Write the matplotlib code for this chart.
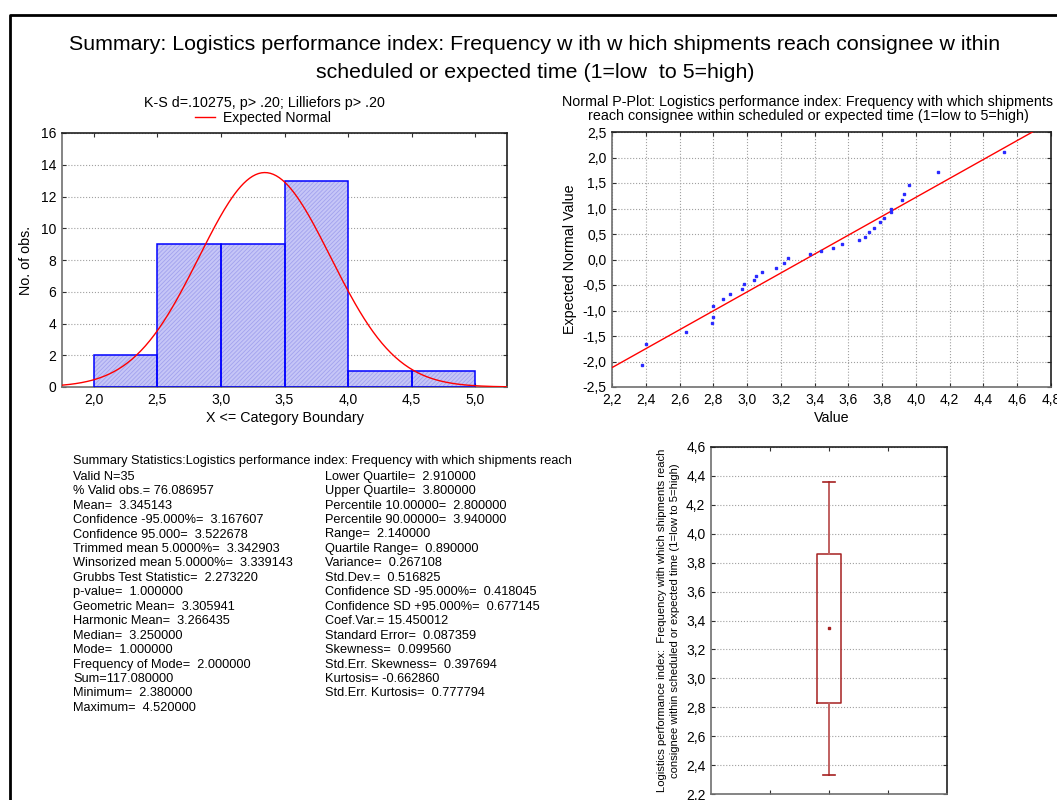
import numpy as np
import matplotlib
matplotlib.use('Agg')
import matplotlib.pyplot as plt
from matplotlib.ticker import FuncFormatter, MultipleLocator
from matplotlib.lines import Line2D

plt.rcParams['font.family'] = ['Liberation Sans', 'DejaVu Sans']
plt.rcParams['hatch.linewidth'] = 0.6

# Histogram data
bin_edges = [2.0, 2.5, 3.0, 3.5, 4.0, 4.5, 5.0]
bin_counts = [2, 9, 9, 13, 1, 1]
n_obs = 35
mean_val = 3.345143
sd_val = 0.516825

# Normal probability plot
pp_values = [2.38, 2.40, 2.64, 2.79, 2.80, 2.80, 2.86, 2.90, 2.97, 2.98, 3.04,
             3.05, 3.09, 3.17, 3.22, 3.24, 3.37, 3.44, 3.51, 3.56, 3.66, 3.70,
             3.72, 3.75, 3.79, 3.81, 3.85, 3.85, 3.92, 3.93, 3.96, 4.13, 4.52]
pp_expected = [-2.06, -1.66, -1.43, -1.24, -1.12, -0.92, -0.77, -0.68, -0.57,
               -0.49, -0.41, -0.33, -0.25, -0.17, -0.06, 0.02, 0.10, 0.17, 0.22,
               0.30, 0.38, 0.45, 0.53, 0.61, 0.73, 0.81, 0.93, 1.00, 1.16, 1.28,
               1.47, 1.71, 2.10]
pp_line_x = [2.2, 4.69]
pp_line_y = [-2.12, 2.5]

# Box plot: mean, mean +/- SD, mean +/- 1.96*SD
box_mean = 3.345
box_low, box_high = 2.83, 3.86
whisker_low, whisker_high = 2.33, 4.36

stats_left = [
    "Valid N=35",
    "% Valid obs.= 76.086957",
    "Mean=  3.345143",
    "Confidence -95.000%=  3.167607",
    "Confidence 95.000=  3.522678",
    "Trimmed mean 5.0000%=  3.342903",
    "Winsorized mean 5.0000%=  3.339143",
    "Grubbs Test Statistic=  2.273220",
    "p-value=  1.000000",
    "Geometric Mean=  3.305941",
    "Harmonic Mean=  3.266435",
    "Median=  3.250000",
    "Mode=  1.000000",
    "Frequency of Mode=  2.000000",
    "Sum=117.080000",
    "Minimum=  2.380000",
    "Maximum=  4.520000",
]
stats_right = [
    "Lower Quartile=  2.910000",
    "Upper Quartile=  3.800000",
    "Percentile 10.00000=  2.800000",
    "Percentile 90.00000=  3.940000",
    "Range=  2.140000",
    "Quartile Range=  0.890000",
    "Variance=  0.267108",
    "Std.Dev.=  0.516825",
    "Confidence SD -95.000%=  0.418045",
    "Confidence SD +95.000%=  0.677145",
    "Coef.Var.= 15.450012",
    "Standard Error=  0.087359",
    "Skewness=  0.099560",
    "Std.Err. Skewness=  0.397694",
    "Kurtosis= -0.662860",
    "Std.Err. Kurtosis=  0.777794",
]

W, H = 1057, 800
fig = plt.figure(figsize=(W / 100, H / 100), dpi=100)

comma = FuncFormatter(lambda v, p: f"{v:.1f}".replace('.', ','))
intfmt = FuncFormatter(lambda v, p: f"{v:.0f}")
LBL = 10.3
TCK = 10


def style_axes(ax):
    for s in ['left', 'bottom']:
        ax.spines[s].set_color('#707070')
    for s in ['top', 'right']:
        ax.spines[s].set_color('#202020')
    for s in ax.spines.values():
        s.set_linewidth(1.2)
    ax.tick_params(direction='in', length=3, top=True, right=True,
                   labelsize=TCK, colors='#303030', labelcolor='black', pad=4)


def px_axes(l, t, r, b):
    return fig.add_axes([l / W, 1 - b / H, (r - l) / W, (b - t) / H])


# Main title
fig.text(535 / W, 1 - 45 / H,
         "Summary: Logistics performance index: Frequency w ith w hich shipments reach consignee w ithin",
         ha='center', va='center', fontsize=15.4)
fig.text(535 / W, 1 - 72 / H, "scheduled or expected time (1=low  to 5=high)",
         ha='center', va='center', fontsize=15.4)

# Frame lines
fig.add_artist(Line2D([10 / W, 10 / W, 1], [0, 1 - 15 / H, 1 - 15 / H],
                      transform=fig.transFigure, color='black', lw=2))

# Histogram
ax1 = px_axes(62, 133, 507, 387)
widths = np.diff(bin_edges)
ax1.bar(bin_edges[:-1], bin_counts, width=widths, align='edge',
        facecolor='#c6c6f7', edgecolor='#a2a2ee', hatch='////////', lw=0, zorder=2)
ax1.bar(bin_edges[:-1], bin_counts, width=widths, align='edge',
        fill=False, edgecolor='#0000ff', lw=1.1, zorder=3)
xs = np.linspace(1.75, 5.25, 300)
bw = bin_edges[1] - bin_edges[0]
curve = n_obs * bw * np.exp(-0.5 * ((xs - mean_val) / sd_val) ** 2) / (sd_val * np.sqrt(2 * np.pi))
ax1.plot(xs, curve, color='red', lw=1, zorder=4, label='Expected Normal')
ax1.set_xlim(1.75, 5.25)
ax1.set_ylim(0, 16)
ax1.xaxis.set_major_locator(MultipleLocator(0.5))
ax1.yaxis.set_major_locator(MultipleLocator(2))
ax1.xaxis.set_major_formatter(comma)
ax1.yaxis.set_major_formatter(intfmt)
ax1.grid(axis='y', color='#a0a0a0', ls=':', lw=0.8)
ax1.set_axisbelow(True)
style_axes(ax1)
ax1.set_xlabel("X <= Category Boundary", fontsize=LBL, labelpad=3)
ax1.set_ylabel("No. of obs.", fontsize=LBL, labelpad=6)
fig.text(264 / W, 1 - 103 / H, "K-S d=.10275, p> .20; Lilliefors p> .20",
         fontsize=10.3, ha='center', va='center')
ax1.legend(loc='center', bbox_to_anchor=(263 / W, 1 - 118 / H),
           bbox_transform=fig.transFigure, frameon=False,
           fontsize=10.1, handlelength=1.4, handletextpad=0.6, borderpad=0.1)

# Normal P-plot
ax2 = px_axes(612, 132, 1051, 387)
ax2.plot(pp_line_x, pp_line_y, color='red', lw=1, zorder=3)
ax2.plot(pp_values, pp_expected, 's', color='#2a2aff', markersize=1.8, zorder=4)
ax2.set_xlim(2.2, 4.8)
ax2.set_ylim(-2.5, 2.5)
ax2.xaxis.set_major_locator(MultipleLocator(0.2))
ax2.yaxis.set_major_locator(MultipleLocator(0.5))
ax2.xaxis.set_major_formatter(comma)
ax2.yaxis.set_major_formatter(comma)
ax2.grid(color='#a0a0a0', ls=':', lw=0.8)
ax2.set_axisbelow(True)
style_axes(ax2)
ax2.set_xlabel("Value", fontsize=LBL, labelpad=3)
ax2.set_ylabel("Expected Normal Value", fontsize=LBL, labelpad=4)
fig.text(808 / W, 1 - 102 / H,
         "Normal P-Plot: Logistics performance index: Frequency with which shipments",
         fontsize=10.3, ha='center', va='center')
fig.text(808 / W, 1 - 116 / H,
         "reach consignee within scheduled or expected time (1=low to 5=high)",
         fontsize=10.3, ha='center', va='center')

# Box plot
ax3 = px_axes(711, 447, 947, 794)
bstats = [{'med': box_mean, 'q1': box_low, 'q3': box_high,
           'whislo': whisker_low, 'whishi': whisker_high, 'fliers': []}]
box_col = '#a52020'
ax3.bxp(bstats, positions=[1.0], widths=0.1, capwidths=0.05, showfliers=False,
        boxprops=dict(color=box_col, lw=1.1),
        whiskerprops=dict(color='#c06060', lw=1.4),
        capprops=dict(color=box_col, lw=1.2),
        medianprops=dict(lw=0))
ax3.plot([1.0], [box_mean], 's', color=box_col, markersize=1.8)
ax3.set_xlim(0.5, 1.5)
ax3.set_ylim(2.2, 4.6)
ax3.set_xticks([0.75, 1.0, 1.25])
ax3.set_xticklabels([])
ax3.yaxis.set_major_locator(MultipleLocator(0.2))
ax3.yaxis.set_major_formatter(comma)
ax3.grid(axis='y', color='#a0a0a0', ls=':', lw=0.8)
ax3.set_axisbelow(True)
style_axes(ax3)
ax3.set_ylabel("Logistics performance index:  Frequency with which shipments reach\n"
               "consignee within scheduled or expected time (1=low to 5=high)",
               fontsize=8.1, labelpad=4, linespacing=1.45)

# Summary statistics text
fs = 9.2
fig.text(73 / W, 1 - 461 / H,
         "Summary Statistics:Logistics performance index: Frequency with which shipments reach",
         fontsize=fs, va='center')
step = 14.45
for i, line in enumerate(stats_left):
    fig.text(73 / W, 1 - (476.7 + i * step) / H, line, fontsize=fs, va='center')
for i, line in enumerate(stats_right):
    fig.text(325 / W, 1 - (476.7 + i * step) / H, line, fontsize=fs, va='center')

fig.savefig('out.png', dpi=100)
